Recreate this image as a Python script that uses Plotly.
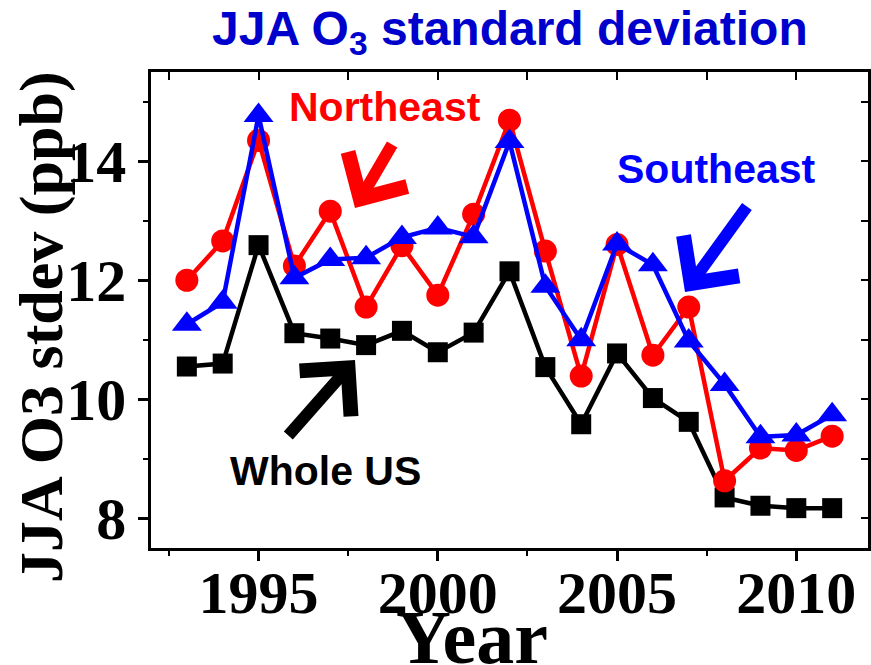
import plotly.graph_objects as go

years = list(range(1993, 2012))
whole_us = [10.55, 10.60, 12.59, 11.11, 11.02, 10.91, 11.15, 10.79, 11.12, 12.15,
            10.54, 9.58, 10.77, 10.02, 9.62, 8.35, 8.21, 8.17, 8.17]
northeast = [12.00, 12.66, 14.35, 12.24, 13.16, 11.55, 12.58, 11.75, 13.11, 14.69,
             12.49, 10.39, 12.60, 10.74, 11.55, 8.63, 9.18, 9.14, 9.38]
southeast = [11.26, 11.63, 14.77, 12.04, 12.35, 12.38, 12.72, 12.88, 12.73, 14.33,
             11.90, 11.00, 12.61, 12.26, 10.98, 10.25, 9.37, 9.40, 9.74]

x_range = [1992, 2012]
y_range = [7.5, 15.5]

W, H = 871, 665
ML, MR, MT, MB = 151, 3, 72, 117
PW, PH = W - ML - MR, H - MT - MB


def px_x(px):
    return x_range[0] + (px - ML) / PW * (x_range[1] - x_range[0])


def px_y(py):
    return y_range[0] + (MT + PH - py) / PH * (y_range[1] - y_range[0])


def pap_x(px):
    return (px - ML) / PW


def pap_y(py):
    return (MT + PH - py) / PH


fig = go.Figure()
fig.add_trace(go.Scatter(x=years, y=whole_us, mode="lines+markers", name="Whole US",
                         line=dict(color="black", width=4.5),
                         marker=dict(symbol="square", size=20, color="black")))
fig.add_trace(go.Scatter(x=years, y=northeast, mode="lines+markers", name="Northeast",
                         line=dict(color="#FF0000", width=4.5),
                         marker=dict(symbol="circle", size=23, color="#FF0000")))
fig.add_trace(go.Scatter(x=years, y=southeast, mode="lines+markers", name="Southeast",
                         line=dict(color="#0000FF", width=4.5),
                         marker=dict(symbol="triangle-up", size=26, color="#0000FF")))
# helper trace so the mirrored tick axes are drawn
fig.add_trace(go.Scatter(x=[years[0]], y=[whole_us[0]], xaxis="x2", yaxis="y2",
                         mode="markers", marker=dict(opacity=0), hoverinfo="skip",
                         showlegend=False))

tickfont = dict(family="Liberation Serif", size=60, color="black", weight="bold")

fig.update_layout(
    width=W, height=H,
    margin=dict(l=ML, r=MR, t=MT, b=MB, autoexpand=False),
    paper_bgcolor="white", plot_bgcolor="white",
    showlegend=False,
    xaxis=dict(range=x_range, tickmode="linear", tick0=1995, dtick=5,
               ticks="outside", ticklen=10, tickwidth=2.5, tickcolor="black",
               minor=dict(tickmode="linear", tick0=1992.5, dtick=2.5, ticks="outside",
                          ticklen=5, tickwidth=2, tickcolor="black"),
               showline=True, linewidth=2.5, linecolor="black", mirror=True,
               showgrid=False, zeroline=False, tickfont=tickfont, automargin=False),
    yaxis=dict(range=y_range, tickmode="linear", tick0=8, dtick=2,
               ticks="outside", ticklen=10, tickwidth=2.5, tickcolor="black",
               minor=dict(tickmode="linear", tick0=7, dtick=1, ticks="outside",
                          ticklen=5, tickwidth=2, tickcolor="black"),
               showline=True, linewidth=2.5, linecolor="black", mirror=True,
               showgrid=False, zeroline=False, tickfont=tickfont, automargin=False,
               ticklabelstandoff=0),
    xaxis2=dict(range=x_range, overlaying="x", side="top", tickmode="linear",
                tick0=1992.5, dtick=2.5, ticks="inside", ticklen=8, tickwidth=2,
                tickcolor="black", showticklabels=False, showline=False,
                showgrid=False, zeroline=False),
    yaxis2=dict(range=y_range, overlaying="y", side="right", tickmode="linear",
                tick0=8, dtick=1, ticks="inside", ticklen=7, tickwidth=2,
                tickcolor="black", showticklabels=False, showline=False,
                showgrid=False, zeroline=False),
)
try:
    fig.update_layout(xaxis_ticklabelstandoff=-20)
except Exception:
    fig.update_layout(xaxis_ticklabelstandoff=0)

sans = "Liberation Sans"
serif = "Liberation Serif"
ann = []
# title
ann.append(dict(text="JJA O<sub>3</sub> standard deviation", xref="paper", yref="paper",
                x=0.5, y=pap_y(32), xanchor="center", yanchor="middle", showarrow=False,
                font=dict(family=sans, size=48, color="#0000CC", weight="bold")))
# axis titles
ann.append(dict(text="Year", xref="paper", yref="paper", x=pap_x(472), y=pap_y(637),
                xanchor="center", yanchor="middle", showarrow=False,
                font=dict(family=serif, size=76, color="black", weight="bold")))
ann.append(dict(text="JJA O3 stdev (ppb)", xref="paper", yref="paper", x=pap_x(41),
                y=pap_y(327), xanchor="center", yanchor="middle", showarrow=False,
                textangle=-90,
                font=dict(family=serif, size=62, color="black", weight="bold")))
# region labels
ann.append(dict(text="Northeast", x=px_x(385), y=px_y(107), showarrow=False,
                xanchor="center", yanchor="middle",
                font=dict(family=sans, size=41, color="#FF0000", weight="bold")))
ann.append(dict(text="Southeast", x=px_x(716), y=px_y(169), showarrow=False,
                xanchor="center", yanchor="middle",
                font=dict(family=sans, size=41, color="#0000FF", weight="bold")))
ann.append(dict(text="Whole US", x=px_x(325), y=px_y(471), showarrow=False,
                xanchor="center", yanchor="middle",
                font=dict(family=sans, size=41, color="black", weight="bold")))
# arrows (tip -> tail)
for tip, tail, col in [((355, 208), (393, 143), "#FF0000"),
                       ((685, 292), (748, 205), "#0000FF"),
                       ((355, 360), (287, 437), "black")]:
    ann.append(dict(text="", x=px_x(tip[0]), y=px_y(tip[1]),
                    ax=px_x(tail[0]), ay=px_y(tail[1]), axref="x", ayref="y",
                    showarrow=True, arrowhead=4, arrowsize=1.1, arrowwidth=12,
                    arrowcolor=col, standoff=0))
fig.update_layout(annotations=ann)

fig.write_html("out.html", config={"displayModeBar": False},
               post_script="document.body.style.margin='0';document.body.style.overflow='hidden';")
